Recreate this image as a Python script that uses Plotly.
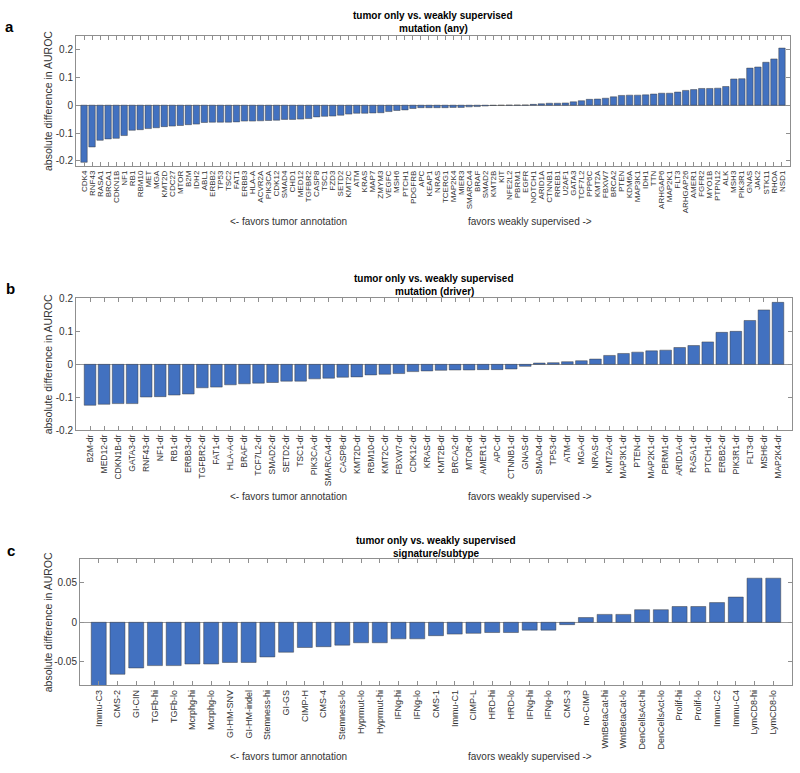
import plotly.graph_objects as go

W, H = 800, 773

# ---------------- data ----------------
a_labels = ["CDK4", "RNF43", "RASA1", "BRCA1", "CDKN1B", "NF1", "RB1", "RBM10", "MET", "MGA",
            "KMT2D", "CDC27", "MTOR", "B2M", "IDH2", "ABL1", "ERBB2", "TP53", "TSC2", "FAT1",
            "ERBB3", "HLA-A", "ACVR2A", "PIK3CA", "CDK12", "SMAD4", "CHD1", "MED12", "TGFBR2", "CASP8",
            "TSC1", "FZD3", "SETD2", "KMT2C", "ATM", "KRAS", "MAP7", "ZMYM3", "VEGFC", "MSH6",
            "PTCH1", "PDGFRB", "APC", "KEAP1", "NRAS", "TCERG1", "MAP2K4", "MIER3", "SMARCA4", "BRAF",
            "SMAD2", "KMT2B", "KIT", "NFE2L2", "PBRM1", "EGFR", "NOTCH1", "ARID1A", "CTNNB1", "RREB1",
            "U2AF1", "GATA3", "TCF7L2", "PPP6C", "KMT2A", "FBXW7", "BRCA2", "PTEN", "KDM6A", "MAP3K1",
            "IDH1", "TTN", "ARHGAP6", "MAP2K1", "FLT3", "ARHGAP26", "AMER1", "FGFR2", "MYO1B", "PTPN12",
            "ALK", "MSH3", "PIK3R1", "GNAS", "JAK2", "STK11", "RHOA", "NSD1"]
a_values = [-0.205, -0.150, -0.126, -0.121, -0.119, -0.109, -0.090, -0.088, -0.084, -0.081,
            -0.077, -0.075, -0.073, -0.070, -0.068, -0.062, -0.061, -0.061, -0.061, -0.060,
            -0.057, -0.057, -0.056, -0.055, -0.054, -0.051, -0.051, -0.050, -0.048, -0.042,
            -0.040, -0.039, -0.036, -0.032, -0.029, -0.029, -0.028, -0.027, -0.023, -0.019,
            -0.017, -0.012, -0.009, -0.009, -0.009, -0.009, -0.008, -0.008, -0.006, -0.005,
            -0.003, -0.001, -0.0003, 0.0003, 0.0006, 0.001, 0.003, 0.005, 0.007, 0.007,
            0.008, 0.012, 0.016, 0.021, 0.022, 0.025, 0.030, 0.035, 0.036, 0.036,
            0.037, 0.040, 0.043, 0.043, 0.047, 0.053, 0.056, 0.060, 0.060, 0.061,
            0.067, 0.094, 0.095, 0.133, 0.137, 0.154, 0.166, 0.205]

b_labels = ["B2M-dr", "MED12-dr", "CDKN1B-dr", "GATA3-dr", "RNF43-dr", "NF1-dr", "RB1-dr", "ERBB3-dr",
            "TGFBR2-dr", "FAT1-dr", "HLA-A-dr", "BRAF-dr", "TCF7L2-dr", "SMAD2-dr", "SETD2-dr", "TSC1-dr",
            "PIK3CA-dr", "SMARCA4-dr", "CASP8-dr", "KMT2D-dr", "RBM10-dr", "KMT2C-dr", "FBXW7-dr",
            "CDK12-dr", "KRAS-dr", "KMT2B-dr", "BRCA2-dr", "MTOR-dr", "AMER1-dr", "APC-dr", "CTNNB1-dr",
            "GNAS-dr", "SMAD4-dr", "TP53-dr", "ATM-dr", "MGA-dr", "NRAS-dr", "KMT2A-dr", "MAP3K1-dr",
            "PTEN-dr", "MAP2K1-dr", "PBRM1-dr", "ARID1A-dr", "RASA1-dr", "PTCH1-dr", "ERBB2-dr",
            "PIK3R1-dr", "FLT3-dr", "MSH6-dr", "MAP2K4-dr"]
b_values = [-0.124, -0.121, -0.119, -0.119, -0.099, -0.098, -0.093, -0.090,
            -0.071, -0.069, -0.062, -0.059, -0.057, -0.055, -0.051, -0.051,
            -0.044, -0.042, -0.039, -0.038, -0.032, -0.030, -0.028,
            -0.022, -0.020, -0.018, -0.017, -0.017, -0.016, -0.016, -0.014,
            -0.006, 0.004, 0.005, 0.008, 0.011, 0.016, 0.027, 0.033,
            0.037, 0.041, 0.043, 0.051, 0.057, 0.068, 0.097,
            0.100, 0.133, 0.165, 0.188]

c_labels = ["Immu-C3", "CMS-2", "GI-CIN", "TGFb-hi", "TGFb-lo", "Mcrphg-hi", "Mcrphg-lo", "GI-HM-SNV",
            "GI-HM-indel", "Stemness-hi", "GI-GS", "CIMP-H", "CMS-4", "Stemness-lo", "Hyprmut-lo",
            "Hyprmut-hi", "IFNg-hi", "IFNg-lo", "CMS-1", "Immu-C1", "CIMP-L", "HRD-hi", "HRD-lo",
            "IFNg-hi", "IFNg-lo", "CMS-3", "no-CIMP", "WntBetaCat-hi", "WntBetaCat-lo", "DenCellsAct-hi",
            "DenCellsAct-lo", "Prolif-hi", "Prolif-lo", "Immu-C2", "Immu-C4", "LymCD8-hi", "LymCD8-lo"]
c_values = [-0.092, -0.066, -0.058, -0.055, -0.055, -0.053, -0.053, -0.051,
            -0.051, -0.044, -0.038, -0.032, -0.031, -0.029, -0.026,
            -0.026, -0.021, -0.021, -0.017, -0.015, -0.014, -0.013, -0.013,
            -0.010, -0.010, -0.003, 0.006, 0.010, 0.010, 0.016,
            0.016, 0.020, 0.020, 0.025, 0.032, 0.056, 0.056]

subtitles = ["mutation (any)", "mutation (driver)", "signature/subtype"]
main_title = "tumor only vs. weakly supervised"
ylab = "absolute difference in AUROC"
left_note = "<- favors tumor annotation"
right_note = "favors weakly supervised ->"
letters = ["a", "b", "c"]

# ---------------- styling ----------------
BAR = "#4271C0"
EDGE = "rgba(60,60,60,0.8)"
AXC = "#8f8f8f"
TXT = "#333333"
FONT = "Liberation Sans, Arial, Helvetica, sans-serif"


def fx(p):
    return p / W


def fy(p):
    return 1 - p / H


panels = [
    dict(labels=a_labels, values=a_values, box=(76, 790, 30, 163), yr=[-0.22, 0.25],
         yt=[-0.2, -0.1, 0, 0.1, 0.2], ytt=["-0.2", "-0.1", "0", "0.1", "0.2"], xfs=8, gap=0.2,
         t1=10, t2=23, note=219, letter=(9, 21)),
    dict(labels=b_labels, values=b_values, box=(76, 792, 297, 431), yr=[-0.2, 0.2],
         yt=[-0.2, -0.1, 0, 0.1, 0.2], ytt=["-0.2", "-0.1", "0", "0.1", "0.2"], xfs=8.5, gap=0.17,
         t1=277, t2=290, note=498, letter=(10, 287)),
    dict(labels=c_labels, values=c_values, box=(80, 792, 562, 690), yr=[-0.08, 0.08],
         yt=[-0.05, 0, 0.05], ytt=["-0.05", "0", "0.05"], xfs=9, gap=0.2,
         t1=543, t2=556, note=762, letter=(11, 553)),
]

fig = go.Figure()
annotations = []
layout = dict(width=W, height=H, margin=dict(l=0, r=0, t=0, b=0),
              paper_bgcolor="white", plot_bgcolor="white", showlegend=False,
              font=dict(family=FONT, color=TXT))

for i, p in enumerate(panels):
    sfx = "" if i == 0 else str(i + 1)
    n = len(p["labels"])
    xs = list(range(n))
    fig.add_trace(go.Bar(x=xs, y=p["values"], xaxis="x" + sfx, yaxis="y" + sfx,
                         marker=dict(color=BAR, line=dict(color=EDGE, width=0.6)),
                         width=1 - p["gap"], hoverinfo="skip"))
    x0, x1, y0, y1 = p["box"]
    layout["xaxis" + sfx] = dict(
        domain=[fx(x0), fx(x1)], range=[-1, n], anchor="y" + sfx,
        tickmode="array", tickvals=xs, ticktext=p["labels"], tickangle=-90,
        ticks="inside", ticklen=4, tickcolor=AXC, tickwidth=1,
        showline=True, linecolor=AXC, linewidth=1, mirror="allticks",
        showgrid=False, zeroline=False,
        tickfont=dict(size=p["xfs"], color=TXT, family=FONT))
    layout["yaxis" + sfx] = dict(
        domain=[fy(y1), fy(y0)], range=p["yr"], anchor="x" + sfx,
        tickmode="array", tickvals=p["yt"], ticktext=p["ytt"],
        ticks="inside", ticklen=4, tickcolor=AXC, tickwidth=1,
        showline=True, linecolor=AXC, linewidth=1, mirror="allticks",
        showgrid=False, zeroline=True, zerolinecolor="#9a9a9a", zerolinewidth=0.8,
        tickfont=dict(size=10, color=TXT, family=FONT))

    cx = (x0 + x1) / 2
    annotations.append(dict(x=fx(cx), y=fy(p["t1"]), xref="paper", yref="paper", showarrow=False,
                            text="<b>" + main_title + "</b>", xanchor="center", yanchor="middle",
                            font=dict(size=10, color="black", family=FONT)))
    annotations.append(dict(x=fx(cx), y=fy(p["t2"]), xref="paper", yref="paper", showarrow=False,
                            text="<b>" + subtitles[i] + "</b>", xanchor="center", yanchor="middle",
                            font=dict(size=10, color="black", family=FONT)))
    annotations.append(dict(x=fx(48), y=fy((y0 + y1) / 2), xref="paper", yref="paper", showarrow=False,
                            text=ylab, textangle=-90, xanchor="center", yanchor="middle",
                            font=dict(size=10.5, color=TXT, family=FONT)))
    annotations.append(dict(x=fx(228), y=fy(p["note"]), xref="paper", yref="paper", showarrow=False,
                            text=left_note, xanchor="left", yanchor="middle",
                            font=dict(size=10, color=TXT, family=FONT)))
    annotations.append(dict(x=fx(594), y=fy(p["note"]), xref="paper", yref="paper", showarrow=False,
                            text=right_note, xanchor="right", yanchor="middle",
                            font=dict(size=10, color=TXT, family=FONT)))
    lx, ly = p["letter"]
    annotations.append(dict(x=fx(lx), y=fy(ly), xref="paper", yref="paper", showarrow=False,
                            text="<b>" + letters[i] + "</b>", xanchor="center", yanchor="middle",
                            font=dict(size=15, color="black", family=FONT)))

layout["annotations"] = annotations
fig.update_layout(**layout)
fig.write_html("out.html",
               config={"displayModeBar": False},
               post_script="document.body.style.margin='0px';"
                           "document.documentElement.style.overflow='hidden';")
